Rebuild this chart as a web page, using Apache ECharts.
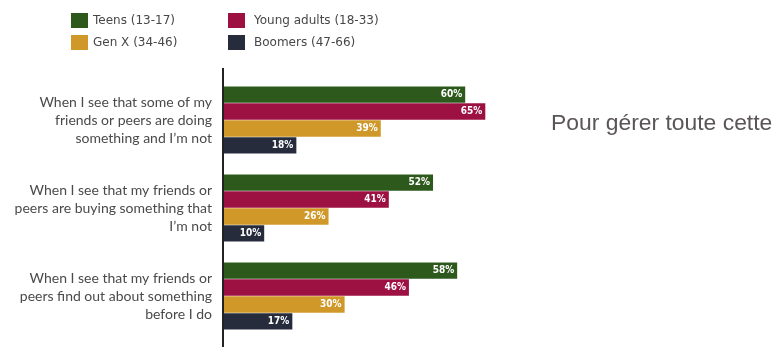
<!DOCTYPE html>
<html><head><meta charset="utf-8">
<script src="https://cdn.jsdelivr.net/npm/echarts@6/dist/echarts.min.js"></script>
<style>html,body{margin:0;padding:0;background:#fff}#c{width:775px;height:347px}</style>
</head><body><div id="c"></div>
<script>
const categories = [
  "When I see that some of my\nfriends or peers are doing\nsomething and I\u2019m not",
  "When I see that my friends or\npeers are buying something that\nI\u2019m not",
  "When I see that my friends or\npeers find out about something\nbefore I do"
];
const seriesNames = ["Teens (13-17)", "Young adults (18-33)", "Gen X (34-46)", "Boomers (47-66)"];
const teens = [60, 52, 58];
const youngAdults = [65, 41, 46];
const genX = [39, 26, 30];
const boomers = [18, 10, 17];
const seriesData = [teens, youngAdults, genX, boomers];
const colors = ["#2d5a1c", "#9c1042", "#cf9829", "#262c3c"];
const sideText = "Pour gérer toute cette";

const chart = echarts.init(document.getElementById('c'), null, {renderer: 'canvas'});
const legendPos = [[71, 13], [228, 13], [71, 35], [228, 35]];
const option = {
  animation: false,
  backgroundColor: '#fff',
  legend: seriesNames.map((n, i) => ({
    data: [n], left: legendPos[i][0], top: legendPos[i][1],
    icon: 'rect', itemWidth: 17, itemHeight: 15, padding: 0,
    textStyle: {fontFamily: 'DejaVu Sans', fontSize: 12, color: '#474747',
      padding: i % 2 === 1 ? [0, 0, 0, 4] : 0}
  })),
  grid: {left: 224, top: 76, height: 264, width: 402},
  xAxis: {type: 'value', min: 0, max: 100, show: false},
  yAxis: {
    type: 'category', data: categories, inverse: true,
    axisLine: {show: false}, axisTick: {show: false},
    axisLabel: {fontFamily: 'Lato', fontSize: 14, color: '#4a4a4a', lineHeight: 18, margin: 12, align: 'right'}
  },
  series: seriesData.map((d, i) => ({
    name: seriesNames[i], type: 'bar', data: d, barWidth: 16.3, barGap: '4%',
    itemStyle: {color: colors[i]},
    label: {show: true, position: 'insideRight', distance: 3, formatter: '{c}%',
      color: '#fff', fontFamily: '"DejaVu Sans Condensed", "DejaVu Sans"', fontWeight: 'bold', fontSize: 10}
  })),
  graphic: [
    {type: 'line', shape: {x1: 223, y1: 68, x2: 223, y2: 347}, style: {stroke: '#222', lineWidth: 2}},
    {type: 'text', x: 551, y: 113, scaleX: 1.04, style: {text: sideText, font: '22px "Liberation Sans"', fill: '#5a5557', textVerticalAlign: 'top'}}
  ]
};
chart.setOption(option);
</script></body></html>
